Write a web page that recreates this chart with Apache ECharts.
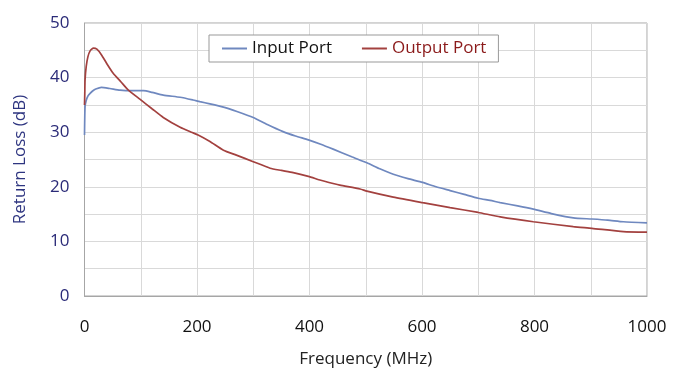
<!DOCTYPE html>
<html><head><meta charset="utf-8">
<script src="https://cdn.jsdelivr.net/npm/echarts@6/dist/echarts.min.js"></script>
<style>html,body{margin:0;padding:0;background:#fff}#c{width:673px;height:385px}</style>
</head><body><div id="c"></div>
<script>
var inputFreq = [0,1,3,6,10,15,20,30,45,63,85,105,120,140,170,193,205,223,247,271,300,325,353,375,398,420,442,475,502,525,549,575,601,625,650,675,700,721,739,770,798,830,869,902,930,958,1000];
var inputLoss = [29.5,34.7,35.8,36.6,37.1,37.6,37.9,38.2,38.0,37.7,37.6,37.6,37.3,36.8,36.4,35.9,35.6,35.2,34.6,33.8,32.7,31.4,30.1,29.3,28.6,27.8,26.9,25.5,24.4,23.3,22.3,21.5,20.8,20.0,19.3,18.6,17.9,17.5,17.1,16.5,15.9,15.1,14.3,14.1,13.9,13.6,13.4];
var outputFreq = [0,0.5,1,3,6,10,16,22,30,40,51,65,78,99,120,140,170,190,202,223,247,270,300,330,350,371,398,420,442,454,490,502,549,601,650,700,739,798,869,902,958,1000];
var outputLoss = [35.0,37.0,39.6,42.0,43.8,44.9,45.4,45.2,44.2,42.5,40.8,39.2,37.7,36.0,34.3,32.7,30.9,30.0,29.5,28.3,26.7,25.8,24.6,23.4,23.0,22.6,21.9,21.2,20.6,20.3,19.6,19.2,18.1,17.1,16.2,15.3,14.5,13.6,12.7,12.4,11.8,11.7];
var seriesNames = ['Input Port','Output Port'];
var xTitle = 'Frequency (MHz)';
var yTitle = 'Return Loss (dB)';

function pairs(xs, ys){ return xs.map(function(x,i){return [x, ys[i]];}); }
var FONT = 'Open Sans';
var FS = 17;
var chart = echarts.init(document.getElementById('c'), null, {renderer:'canvas'});
chart.setOption({
  animation:false,
  backgroundColor:'#fff',
  grid:{left:84.5,right:26,top:23,bottom:89,show:true,borderColor:'#A6A6A6',borderWidth:1,containLabel:false},
  legend:{
    left:209, top:35,
    backgroundColor:'#fff', borderColor:'#999', borderWidth:1,
    padding:[5,12,5,13], itemGap:30, itemWidth:25, itemHeight:2, icon:'rect',
    textStyle:{fontFamily:FONT,fontSize:FS,color:'#111'},
    data:[{name:seriesNames[0],textStyle:{color:'#111'}},{name:seriesNames[1],textStyle:{color:'#8B1A1A'}}]
  },
  xAxis:{
    type:'value', min:0, max:1000, interval:100,
    name:xTitle, nameLocation:'middle', nameGap:55,
    nameTextStyle:{fontFamily:FONT,fontSize:FS,color:'#222'},
    axisLine:{show:true,lineStyle:{color:'#A6A6A6'}},
    axisTick:{show:false},
    splitLine:{show:true,lineStyle:{color:'#D9D9D9'}},
    axisLabel:{fontFamily:FONT,fontSize:FS,color:'#111',margin:23,
      formatter:function(v){return v%200===0?String(v):'';}}
  },
  yAxis:{
    type:'value', min:0, max:50, interval:5,
    name:yTitle, nameLocation:'middle', nameGap:56, nameRotate:90,
    nameTextStyle:{fontFamily:FONT,fontSize:FS,color:'#2E3580'},
    axisLine:{show:true,lineStyle:{color:'#A6A6A6'}},
    axisTick:{show:false},
    splitLine:{show:true,lineStyle:{color:'#D9D9D9'}},
    axisLabel:{fontFamily:FONT,fontSize:FS,color:'#2B2B78',margin:15,
      formatter:function(v){return v%10===0?String(v):'';}}
  },
  series:[
    {name:seriesNames[0],type:'line',data:pairs(inputFreq,inputLoss),showSymbol:false,smooth:0.2,
      lineStyle:{color:'#6F88BF',width:1.7},itemStyle:{color:'#6F88BF'}},
    {name:seriesNames[1],type:'line',data:pairs(outputFreq,outputLoss),showSymbol:false,smooth:0.2,
      lineStyle:{color:'#A3413F',width:1.7},itemStyle:{color:'#A3413F'}}
  ]
});
</script></body></html>
